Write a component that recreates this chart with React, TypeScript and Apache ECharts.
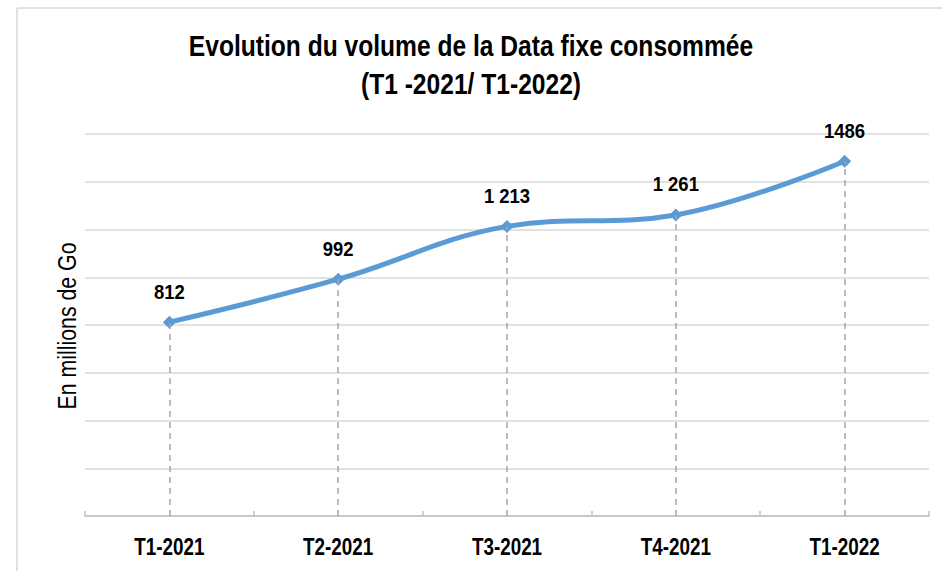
import React, { useEffect, useRef } from "react";
import * as echarts from "echarts";

const categories = ["T1-2021", "T2-2021", "T3-2021", "T4-2021", "T1-2022"];
const values = [812, 992, 1213, 1261, 1486];
const valueLabels = ["812", "992", "1 213", "1 261", "1486"];
const titleLines = ["Evolution du volume de la Data fixe consommée", "(T1 -2021/ T1-2022)"];
const yAxisName = "En millions de Go";

const SANS = '"Liberation Sans", Arial, sans-serif';
const NARROW = 0.82;

export default function App() {
  const ref = useRef<HTMLDivElement>(null);
  useEffect(() => {
    if (!ref.current) return;
    const chart = echarts.init(ref.current, null, { renderer: "svg" });
    chart.setOption({
      animation: false,
      backgroundColor: "#ffffff",
      grid: { left: 85, right: 13, top: 134, bottom: 55 },
      xAxis: {
        type: "category",
        data: categories,
        boundaryGap: true,
        axisLine: { show: true, lineStyle: { color: "#BFBFBF", width: 1.5 } },
        axisTick: { show: true, inside: true, length: 5, lineStyle: { color: "#BFBFBF", width: 1.5 } },
        axisLabel: { show: false },
        splitLine: { show: false },
      },
      yAxis: {
        type: "value",
        min: 0,
        max: 1600,
        interval: 200,
        axisLine: { show: false },
        axisTick: { show: false },
        axisLabel: { show: false },
        splitLine: { show: true, lineStyle: { color: "#D9D9D9", width: 1.5 } },
      },
      series: [
        {
          type: "line",
          data: values,
          smooth: 0.4,
          symbol: "diamond",
          symbolSize: 13,
          itemStyle: { color: "#5B9BD5" },
          lineStyle: { color: "#5B9BD5", width: 5 },
          label: { show: false },
          markLine: {
            silent: true,
            symbol: "none",
            label: { show: false },
            lineStyle: { color: "#A6A6A6", type: [6, 5], width: 1.5 },
            data: values.map((v, i) => [{ coord: [i, 0] }, { coord: [i, v] }]),
          },
          z: 3,
        },
      ],
    });

    const graphics: any[] = [
      {
        type: "line",
        shape: { x1: 17, y1: 8, x2: 942, y2: 8 },
        style: { stroke: "#D9D9D9", lineWidth: 1.5 },
      },
      {
        type: "line",
        shape: { x1: 17, y1: 8, x2: 17, y2: 571 },
        style: { stroke: "#D9D9D9", lineWidth: 1.5 },
      },
      ...titleLines.map((t, k) => ({
        type: "text",
        x: 471,
        y: k === 0 ? 46 : 84,
        scaleX: NARROW,
        style: {
          text: t,
          fontFamily: SANS,
          fontWeight: "bold",
          fontSize: 30,
          fill: "#000000",
          align: "center",
          verticalAlign: "middle",
        },
      })),
      {
        type: "text",
        x: 67,
        y: 326,
        rotation: Math.PI / 2,
        scaleX: NARROW,
        style: {
          text: yAxisName,
          fontFamily: SANS,
          fontSize: 26,
          fill: "#000000",
          align: "center",
          verticalAlign: "middle",
        },
      },
    ];

    const axisY = chart.convertToPixel({ xAxisIndex: 0, yAxisIndex: 0 }, [0, 0])[1];
    categories.forEach((c, i) => {
      const px = chart.convertToPixel({ xAxisIndex: 0, yAxisIndex: 0 }, [i, values[i]]);
      graphics.push({
        type: "text",
        x: px[0],
        y: axisY + 31,
        scaleX: NARROW,
        style: {
          text: c,
          fontFamily: SANS,
          fontWeight: "bold",
          fontSize: 23,
          fill: "#000000",
          align: "center",
          verticalAlign: "middle",
        },
      });
      graphics.push({
        type: "text",
        x: px[0],
        y: px[1] - 31,
        scaleX: 0.88,
        style: {
          text: valueLabels[i],
          fontFamily: SANS,
          fontWeight: "bold",
          fontSize: 21,
          fill: "#000000",
          align: "center",
          verticalAlign: "middle",
        },
      });
    });

    chart.setOption({ graphic: graphics });
    return () => chart.dispose();
  }, []);
  return <div ref={ref} style={{ width: 942, height: 571, position: "absolute", left: 0, top: 0 }} />;
}
